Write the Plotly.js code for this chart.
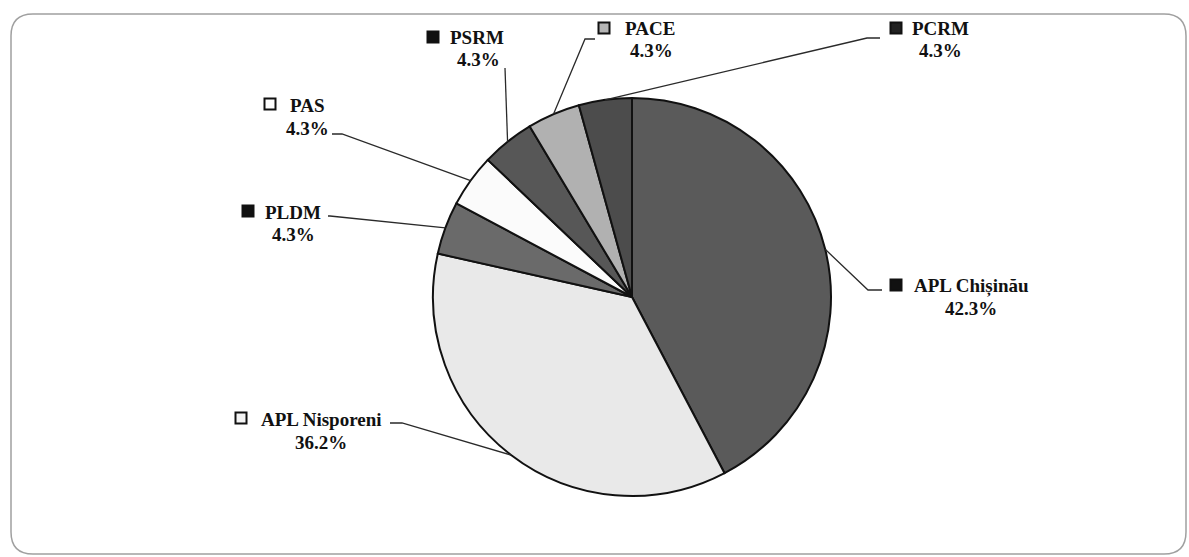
<!DOCTYPE html>
<html>
<head>
<meta charset="utf-8">
<script src="https://cdn.plot.ly/plotly-3.0.1.min.js"></script>
<style>
  html, body { margin: 0; padding: 0; background: #ffffff; }
  #chart { width: 1189px; height: 557px; }
</style>
</head>
<body>
<div id="chart"></div>
<script>
// ---------- data ----------
const categories = ['APL Chișinău', 'APL Nisporeni', 'PLDM', 'PAS', 'PSRM', 'PACE', 'PCRM'];
const shares = [42.3, 36.2, 4.3, 4.3, 4.3, 4.3, 4.3];

// ---------- styles ----------
const sliceColors = ['#5a5a5a', '#e9e9e9', '#6a6a6a', '#fbfbfb', '#575757', '#b1b1b1', '#4c4c4c'];
const squareColors = ['#111111', '#f4f4f4', '#111111', '#ffffff', '#111111', '#b5b5b5', '#222222'];

// ---------- layout positions (pixels) ----------
const W = 1189, H = 557;
const pieCenter = [632, 297];
const pieRadius = 199;
// name centre, percent centre, square centre, leader start, leader elbow
const labelLayout = [
  { name: [971, 286], pct: [971, 308], sq: [896, 285], start: [882, 290], elbow: [868, 290] },
  { name: [322, 419], pct: [321, 442], sq: [241, 418], start: [390, 423], elbow: [402, 423] },
  { name: [293, 212], pct: [293, 234], sq: [248, 211], start: [328, 216], elbow: [330, 216] },
  { name: [307, 105], pct: [307, 128], sq: [270, 104], start: [332, 134], elbow: [342, 134] },
  { name: [477, 38],  pct: [478, 60],  sq: [433, 37],  start: [505, 68],  elbow: [505, 68] },
  { name: [650, 29],  pct: [651, 50],  sq: [604, 28],  start: [595, 39],  elbow: [585, 39] },
  { name: [941, 29],  pct: [941, 50],  sq: [896, 28],  start: [880, 38],  elbow: [867, 38] }
];

const fx = x => x / W;
const fy = y => 1 - y / H;

const total = shares.reduce((a, b) => a + b, 0);
let cum = 0;
const midAngles = shares.map(v => { const a = (cum + v / 2) / total * 2 * Math.PI; cum += v; return a; });

const font = { family: 'Liberation Serif, Times New Roman, serif', size: 19, color: '#111111', weight: 'bold' };

const annotations = [];
const shapes = [];

categories.forEach((cat, i) => {
  const L = labelLayout[i];
  annotations.push({
    xref: 'paper', yref: 'paper', x: fx(L.name[0]), y: fy(L.name[1]),
    xanchor: 'center', yanchor: 'middle', text: cat, showarrow: false, font: font
  });
  annotations.push({
    xref: 'paper', yref: 'paper', x: fx(L.pct[0]), y: fy(L.pct[1]),
    xanchor: 'center', yanchor: 'middle', text: shares[i].toFixed(1) + '%', showarrow: false, font: font
  });
  // legend-like square
  const s = 5.5;
  shapes.push({
    type: 'rect', xref: 'paper', yref: 'paper',
    x0: fx(L.sq[0] - s), x1: fx(L.sq[0] + s), y0: fy(L.sq[1] + s), y1: fy(L.sq[1] - s),
    fillcolor: squareColors[i], line: { color: '#111111', width: 2 }
  });
  // leader line to slice edge (computed from slice mid angle)
  const a = midAngles[i];
  const ex = pieCenter[0] + pieRadius * Math.sin(a);
  const ey = pieCenter[1] - pieRadius * Math.cos(a);
  const path = 'M ' + fx(L.start[0]) + ' ' + fy(L.start[1]) +
               ' L ' + fx(L.elbow[0]) + ' ' + fy(L.elbow[1]) +
               ' L ' + fx(ex) + ' ' + fy(ey);
  shapes.push({ type: 'path', xref: 'paper', yref: 'paper', path: path, line: { color: '#2a2a2a', width: 1.3 } });
});

// rounded frame
(function () {
  const x0 = 11, y0 = 14, x1 = 1186, y1 = 554, r = 22;
  const p = 'M ' + fx(x0 + r) + ' ' + fy(y0) +
    ' L ' + fx(x1 - r) + ' ' + fy(y0) +
    ' Q ' + fx(x1) + ' ' + fy(y0) + ' ' + fx(x1) + ' ' + fy(y0 + r) +
    ' L ' + fx(x1) + ' ' + fy(y1 - r) +
    ' Q ' + fx(x1) + ' ' + fy(y1) + ' ' + fx(x1 - r) + ' ' + fy(y1) +
    ' L ' + fx(x0 + r) + ' ' + fy(y1) +
    ' Q ' + fx(x0) + ' ' + fy(y1) + ' ' + fx(x0) + ' ' + fy(y1 - r) +
    ' L ' + fx(x0) + ' ' + fy(y0 + r) +
    ' Q ' + fx(x0) + ' ' + fy(y0) + ' ' + fx(x0 + r) + ' ' + fy(y0) + ' Z';
  shapes.unshift({ type: 'path', xref: 'paper', yref: 'paper', path: p, line: { color: '#a0a0a0', width: 1.5 }, layer: 'below' });
})();

const trace = {
  type: 'pie',
  labels: categories,
  values: shares,
  sort: false,
  direction: 'clockwise',
  rotation: 0,
  textinfo: 'none',
  hoverinfo: 'label+percent',
  showlegend: false,
  marker: { colors: sliceColors, line: { color: '#111111', width: 2 } },
  domain: {
    x: [fx(pieCenter[0] - pieRadius), fx(pieCenter[0] + pieRadius)],
    y: [fy(pieCenter[1] + pieRadius), fy(pieCenter[1] - pieRadius)]
  }
};

const layout = {
  width: W, height: H,
  margin: { l: 0, r: 0, t: 0, b: 0 },
  paper_bgcolor: '#ffffff',
  plot_bgcolor: '#ffffff',
  showlegend: false,
  annotations: annotations,
  shapes: shapes
};

Plotly.newPlot('chart', [trace], layout, { displayModeBar: false, staticPlot: true });
</script>
</body>
</html>
